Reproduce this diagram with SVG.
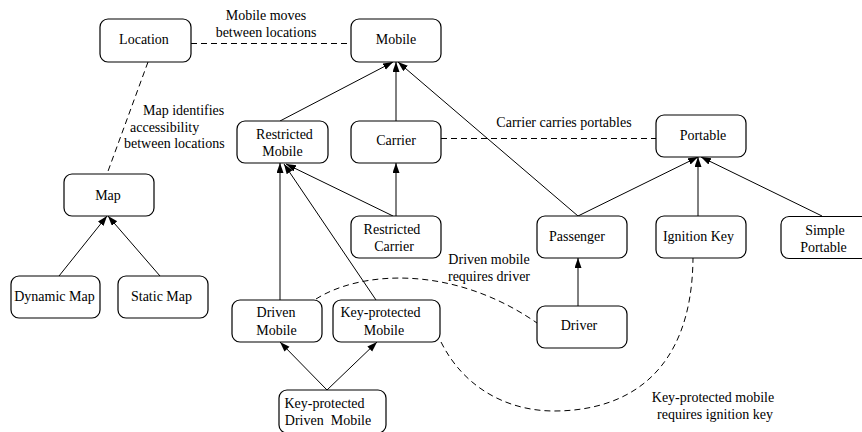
<svg xmlns="http://www.w3.org/2000/svg" width="862" height="432" viewBox="0 0 862 432">
<style>
.node rect{fill:#fff;stroke:#000;stroke-width:1.2}
text{font-family:"Liberation Serif","Times New Roman",serif;font-size:14px;fill:#000}
.c{text-anchor:middle}
.edge{stroke:#000;stroke-width:1;fill:none;marker-end:url(#arr)}
.dash{stroke:#000;stroke-width:1;fill:none;stroke-dasharray:6 4}
</style>
<defs>
<marker id="arr" markerUnits="userSpaceOnUse" markerWidth="11" markerHeight="8" refX="10" refY="3.5" orient="auto">
<path d="M0,0 L10,3.5 L0,7 z" fill="#000"/>
</marker>
</defs>
<rect width="862" height="432" fill="#fff"/>
<g id="connectors">
<line class="dash" x1="191" y1="43.5" x2="351" y2="43.5"/>
<line class="dash" x1="148" y1="62" x2="107" y2="174"/>
<line class="dash" x1="441" y1="138.5" x2="656" y2="138.5"/>
<path class="dash" d="M316,299 C360,271 452,264 537,323"/>
<path class="dash" d="M441,342 C465,390 510,411 554,411 C625,411 692,375 693,258"/>
<line class="edge" x1="280" y1="121" x2="393" y2="62"/>
<line class="edge" x1="396" y1="121" x2="396" y2="62"/>
<line class="edge" x1="578" y1="216" x2="398" y2="62"/>
<line class="edge" x1="578" y1="216" x2="698" y2="157"/>
<line class="edge" x1="698" y1="216" x2="698" y2="157"/>
<line class="edge" x1="822" y1="216" x2="701" y2="157"/>
<line class="edge" x1="280" y1="300" x2="280" y2="163"/>
<line class="edge" x1="376" y1="300" x2="284" y2="164"/>
<line class="edge" x1="393" y1="216" x2="286" y2="164"/>
<line class="edge" x1="396" y1="216" x2="396" y2="163"/>
<line class="edge" x1="578" y1="306" x2="578" y2="258"/>
<line class="edge" x1="327" y1="390" x2="280" y2="342"/>
<line class="edge" x1="327" y1="390" x2="377" y2="342"/>
<line class="edge" x1="59" y1="276" x2="107" y2="216"/>
<line class="edge" x1="160" y1="276" x2="108" y2="216"/>
</g>
<g id="labels">
<text class="c" x="266" y="20">Mobile moves</text>
<text class="c" x="266" y="37">between locations</text>
<text x="143" y="115">Map identifies</text>
<text x="130" y="131.5">accessibility</text>
<text x="124" y="148">between locations</text>
<text class="c" x="564" y="127">Carrier carries portables</text>
<text class="c" x="489" y="264">Driven mobile</text>
<text class="c" x="489" y="280.5">requires driver</text>
<text class="c" x="713" y="402">Key-protected mobile</text>
<text class="c" x="715" y="419">requires ignition key</text>
</g>
<g id="location" class="node"><rect x="100" y="19" width="91" height="43" rx="8"/><text class="c" x="144" y="43.5">Location</text></g>
<g id="mobile" class="node"><rect x="351" y="19" width="90" height="43" rx="8"/><text class="c" x="396" y="43.5">Mobile</text></g>
<g id="portable" class="node"><rect x="656" y="115" width="90" height="42" rx="8"/><text class="c" x="703" y="139.5">Portable</text></g>
<g id="restricted-mobile" class="node"><rect x="237" y="121" width="91" height="42" rx="8"/><text class="c" x="284.5" y="138.5">Restricted</text><text class="c" x="282.5" y="155.5">Mobile</text></g>
<g id="carrier" class="node"><rect x="351" y="121" width="90" height="42" rx="8"/><text class="c" x="396" y="145">Carrier</text></g>
<g id="map" class="node"><rect x="64" y="174" width="90" height="42" rx="8"/><text class="c" x="108" y="199.5">Map</text></g>
<g id="restricted-carrier" class="node"><rect x="351" y="216" width="90" height="42" rx="8"/><text class="c" x="392" y="234">Restricted</text><text class="c" x="394" y="251">Carrier</text></g>
<g id="passenger" class="node"><rect x="537" y="216" width="90" height="42" rx="8"/><text class="c" x="577" y="241">Passenger</text></g>
<g id="ignition-key" class="node"><rect x="656" y="216" width="90" height="42" rx="8"/><text class="c" x="698.5" y="241">Ignition Key</text></g>
<g id="simple-portable" class="node"><rect x="781" y="216.5" width="90" height="42" rx="8"/><text class="c" x="825" y="234.5">Simple</text><text class="c" x="823.5" y="251.5">Portable</text></g>
<g id="dynamic-map" class="node"><rect x="11" y="276" width="89" height="42" rx="8"/><text class="c" x="54.5" y="300.5">Dynamic Map</text></g>
<g id="static-map" class="node"><rect x="118" y="276" width="90" height="42" rx="8"/><text class="c" x="161.5" y="300.5">Static Map</text></g>
<g id="driven-mobile" class="node"><rect x="232" y="300" width="90" height="42" rx="8"/><text class="c" x="276" y="317">Driven</text><text class="c" x="276.5" y="334.5">Mobile</text></g>
<g id="key-protected-mobile" class="node"><rect x="333" y="300" width="107" height="42" rx="8"/><text class="c" x="380.5" y="317">Key-protected</text><text class="c" x="384" y="334.5">Mobile</text></g>
<g id="driver" class="node"><rect x="537" y="306" width="90" height="42" rx="8"/><text class="c" x="579" y="330">Driver</text></g>
<g id="key-protected-driven-mobile" class="node"><rect x="279" y="390" width="107" height="43" rx="8"/><text class="c" x="324.5" y="408">Key-protected</text><text class="c" x="328" y="425" xml:space="preserve">Driven  Mobile</text></g>
</svg>
